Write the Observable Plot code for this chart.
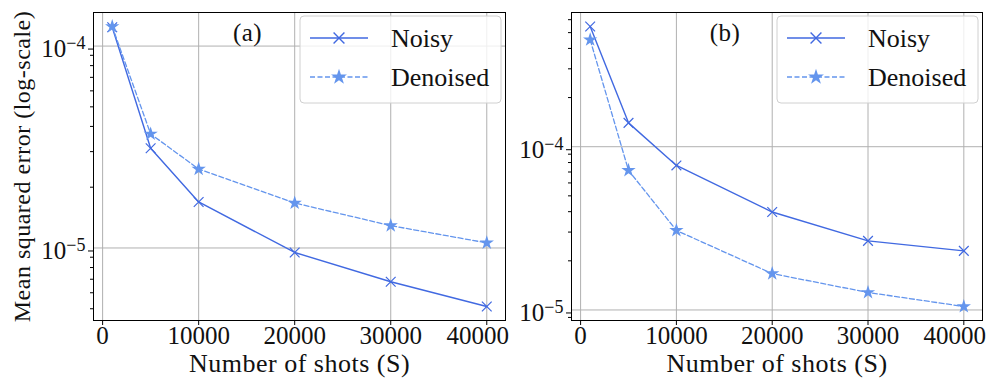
<!DOCTYPE html>
<html><head><meta charset="utf-8">
<script src="https://cdn.jsdelivr.net/npm/d3@7"></script>
<script src="https://cdn.jsdelivr.net/npm/@observablehq/plot@0.6"></script>
<style>
body{margin:0;background:#fff;}
#wrap{position:relative;width:987px;height:378px;overflow:hidden;font-family:"Liberation Serif",serif;}
.panel{position:absolute;top:0;}
</style></head><body><div id="wrap"></div>
<script>
// ---- data ----
const shots = [1000, 5000, 10000, 20000, 30000, 40000];
const noisyA = [1.24e-4, 3.12e-5, 1.69e-5, 9.5e-6, 6.8e-6, 5.13e-6];
const denoisedA = [1.25e-4, 3.67e-5, 2.46e-5, 1.67e-5, 1.29e-5, 1.06e-5];
const noisyB = [5.45e-4, 1.40e-4, 7.68e-5, 3.98e-5, 2.65e-5, 2.30e-5];
const denoisedB = [4.52e-4, 7.16e-5, 3.07e-5, 1.67e-5, 1.28e-5, 1.05e-5];
const seriesNames = ["Noisy", "Denoised"];
const seriesColors = ["#4169E1", "#6495ED"];
const xTicks = [0, 10000, 20000, 30000, 40000];
const yMajorTicks = [1e-6, 1e-5, 1e-4, 1e-3];
const panelLabels = ["(a)", "(b)"];
const xLabel = "Number of shots (S)";
const yLabel = "Mean squared error (log-scale)";

const FONT = '"Liberation Serif", serif';

function pad(lo, hi) { const m = (hi - lo) * 0.05; return [lo - m, hi + m]; }

function makePanel(noisy, denoised, o) {
  const noisyRows = shots.map((s, i) => ({shots: s, mse: noisy[i]}));
  const denRows = shots.map((s, i) => ({shots: s, mse: denoised[i]}));
  const xd = pad(d3.min(shots), d3.max(shots));
  const all = noisy.concat(denoised).map(Math.log10);
  const yl = pad(d3.min(all), d3.max(all));
  const yd = [10 ** yl[0], 10 ** yl[1]];
  const minor = [];
  for (let e = -7; e <= -2; e++) for (let k = 2; k <= 9; k++) { const v = k * 10 ** e; if (v >= yd[0] && v <= yd[1]) minor.push(v); }
  const majors = yMajorTicks.filter(v => v >= yd[0] && v <= yd[1]);
  const marks = [
    Plot.gridX(xTicks, {stroke: "#b0b0b0", strokeOpacity: 1, strokeWidth: 1}),
    Plot.gridY(majors, {stroke: "#b0b0b0", strokeOpacity: 1, strokeWidth: 1}),
    Plot.line(noisyRows, {x: "shots", y: "mse", stroke: seriesColors[0], strokeWidth: 1.4}),
    Plot.dot(noisyRows, {x: "shots", y: "mse", symbol: "times", stroke: seriesColors[0], r: 4.5, strokeWidth: 1.2}),
    Plot.line(denRows, {x: "shots", y: "mse", stroke: seriesColors[1], strokeWidth: 1.3, strokeDasharray: "5,2.5"}),
    Plot.dot(denRows, {x: "shots", y: "mse", symbol: "star", fill: seriesColors[1], stroke: "none", r: 4.5}),
    Plot.axisX(xTicks, {tickSize: 5, tickPadding: 1, tickFormat: d => String(d), label: null, fill: "#111", fontSize: 25}),
    Plot.axisY(majors, {tickSize: 5, tickPadding: 3, dy: 3, tickFormat: d => "10^" + Math.round(Math.log10(d)), label: null, fill: "#111", fontSize: 25}),
    Plot.axisY(minor, {tickSize: 3, tickFormat: () => "", label: null}),
    Plot.frame({stroke: "black", strokeWidth: 1}),
    Plot.text([o.label], {frameAnchor: "top", dx: -52, dy: 20, lineAnchor: "middle", text: d => d, fill: "#111", fontSize: 25}),
    Plot.text([xLabel], {frameAnchor: "bottom", dy: 33, lineAnchor: "top", text: d => d, fill: "#111", fontSize: 26})
  ];
  if (o.yLabel) marks.push(Plot.text([yLabel], {frameAnchor: "left", dx: -71, rotate: -90, textAnchor: "middle", lineAnchor: "middle", text: d => d, fill: "#111", fontSize: 24}));
  const svg = Plot.plot({
    width: o.width, height: 378,
    marginLeft: o.marginLeft, marginRight: o.marginRight, marginTop: 12, marginBottom: 58,
    x: {type: "linear", domain: xd},
    y: {type: "log", domain: yd},
    style: {fontSize: "24px", fontFamily: FONT, background: "transparent", overflow: "visible"},
    marks
  });
  // superscripts
  d3.select(svg).selectAll('g[aria-label="y-axis tick label"] text').each(function() {
    const t = this.textContent; const m = /^10\^(-?\d+)$/.exec(t);
    if (!m) return;
    const s = d3.select(this); s.text(null);
    s.append("tspan").text("10");
    s.append("tspan").attr("dy", "-0.45em").attr("font-size", "0.72em").text(m[1].replace("-", "\u2212"));
  });
  // the last x tick label sits a little left of its tick in the reference
  d3.select(svg).selectAll('g[aria-label="x-axis tick label"] text').each(function() {
    if (this.textContent === String(xTicks[xTicks.length - 1])) {
      const tr = this.getAttribute("transform") || "";
      this.setAttribute("transform", tr + " translate(-9,0)");
    }
  });
  d3.select(svg).selectAll('g[aria-label="text"] text').attr("letter-spacing", "0.5px");
  // legend
  const g = d3.select(svg).append("g").attr("text-anchor", "start");
  const bw = 201, bh = 87;
  const bx = o.width - o.marginRight - 4 - bw, by = 12 + 4;
  g.append("rect").attr("x", bx).attr("y", by).attr("width", bw).attr("height", bh).attr("rx", 4)
    .attr("fill", "white").attr("fill-opacity", 0.8).attr("stroke", "#d0d0d0").attr("stroke-width", 1);
  const rows = [{y: by + 22, dash: null, sym: d3.symbolTimes}, {y: by + 61, dash: "5,2.5", sym: d3.symbolStar}];
  rows.forEach((r, i) => {
    g.append("line").attr("x1", bx + 10).attr("x2", bx + 68).attr("y1", r.y).attr("y2", r.y)
      .attr("stroke", seriesColors[i]).attr("stroke-width", 1.6).attr("stroke-dasharray", r.dash);
    const p = g.append("path").attr("d", d3.symbol(r.sym, Math.PI * 5 * 5)()).attr("transform", `translate(${bx + 39},${r.y})`);
    if (i === 0) p.attr("fill", "none").attr("stroke", seriesColors[i]).attr("stroke-width", 1.4);
    else p.attr("fill", seriesColors[i]);
    g.append("text").attr("x", bx + 91).attr("y", r.y + 9).attr("fill", "#111").attr("font-size", 26).text(seriesNames[i]);
  });
  const div = document.createElement("div");
  div.className = "panel"; div.style.left = o.left + "px";
  div.appendChild(svg);
  document.getElementById("wrap").appendChild(div);
}

makePanel(noisyA, denoisedA, {left: 0, width: 520, marginLeft: 93, marginRight: 15, label: panelLabels[0], yLabel: true});
makePanel(noisyB, denoisedB, {left: 500, width: 487, marginLeft: 71, marginRight: 5, label: panelLabels[1], yLabel: false});
</script></body></html>
